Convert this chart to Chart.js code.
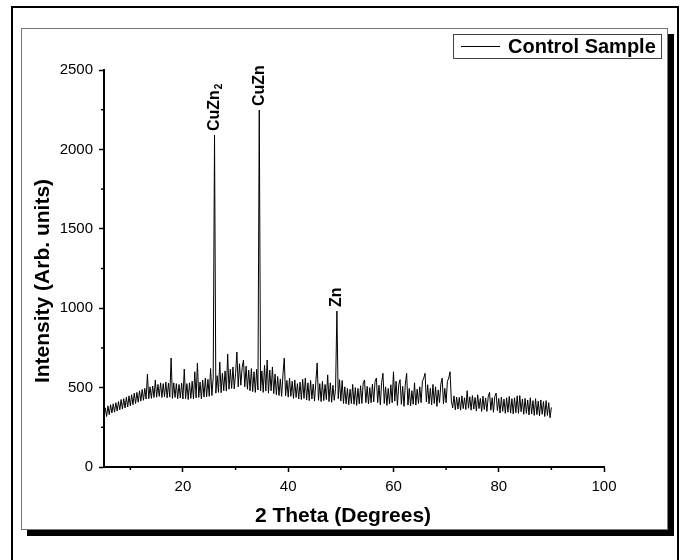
<!DOCTYPE html>
<html>
<head>
<meta charset="utf-8">
<title>XRD - Control Sample</title>
<script src="https://cdn.jsdelivr.net/npm/chart.js@4.4.1/dist/chart.umd.min.js"></script>
<style>
  html, body { margin: 0; padding: 0; background: #fff; }
  #page { position: relative; width: 685px; height: 560px; overflow: hidden; }
  #outer { position: absolute; left: 11px; top: 6px; width: 664px; height: 580px; border: 2px solid #000; }
  #frame { position: absolute; left: 21px; top: 28px; width: 645px; height: 500px; border: 1px solid #777; box-shadow: 6px 6px 0 #000; background: #fff; }
  #xrd { position: absolute; left: 0; top: 0; }
</style>
</head>
<body>
<div id="page">
  <div id="outer"></div>
  <div id="frame"></div>
  <canvas id="xrd" width="685" height="560"></canvas>
</div>
<script>
// scan: 2 theta from 5 to 90 deg, 0.25 deg per point
var scanStart = 5;
var scanStep = 0.25;

// intensities, one row = 5 degrees (20 points)
var intensity = [
  310, 372, 318, 385, 330, 392, 340, 398, 345, 405, 352, 412, 360, 425, 365, 430, 372, 440, 378, 448,   // 5
  385, 455, 392, 465, 400, 470, 408, 480, 415, 488, 420, 495, 428, 585, 430, 505, 432, 510, 438, 548,   // 10
  440, 520, 445, 530, 438, 525, 442, 535, 436, 528, 440, 686, 432, 530, 438, 525, 430, 520, 435, 528,   // 15
  428, 617, 430, 525, 425, 530, 432, 540, 428, 600, 435, 655, 438, 535, 430, 548, 440, 560, 442, 552,   // 20
  445, 620, 450, 565, 2090, 465, 575, 470, 661, 468, 590, 480, 605, 478, 711, 490, 615, 495, 630, 492,  // 25
  590, 724, 505, 650, 515, 625, 674, 505, 635, 490, 610, 480, 620, 475, 600, 470, 615, 485, 2248, 480,  // 30
  605, 470, 640, 478, 674, 465, 610, 480, 630, 462, 585, 455, 570, 450, 555, 445, 580, 686, 448, 545,   // 35
  440, 560, 445, 540, 432, 548, 438, 525, 428, 535, 425, 552, 432, 560, 422, 530, 418, 545, 428, 522,   // 40
  415, 535, 655, 420, 525, 412, 540, 418, 520, 425, 580, 412, 530, 408, 515, 420, 495, 982, 430, 550,   // 45
  415, 545, 400, 505, 398, 495, 392, 490, 400, 520, 395, 500, 388, 495, 398, 512, 400, 530, 548, 405,   // 50
  508, 398, 500, 405, 522, 410, 540, 560, 405, 515, 392, 532, 590, 400, 505, 388, 495, 398, 518, 405,   // 55
  600, 415, 540, 388, 518, 550, 395, 508, 382, 522, 590, 390, 495, 385, 480, 395, 530, 390, 490, 400,   // 60
  505, 405, 540, 560, 590, 410, 518, 398, 495, 392, 520, 400, 505, 382, 485, 405, 522, 560, 398, 495,   // 65
  405, 540, 560, 600, 415, 372, 448, 360, 440, 365, 438, 358, 448, 368, 436, 362, 480, 370, 442, 358,   // 70
  450, 365, 438, 352, 455, 368, 432, 350, 446, 362, 435, 350, 442, 470, 358, 436, 345, 445, 465, 355,   // 75
  432, 340, 440, 350, 428, 338, 436, 345, 445, 340, 430, 335, 436, 342, 448, 338, 450, 348, 428, 332,   // 80
  432, 338, 422, 328, 436, 334, 418, 325, 430, 330, 415, 322, 422, 332, 412, 318, 418, 325, 405, 310,   // 85
  375                                                                                                   // 90
];

var xTicks = [20, 40, 60, 80, 100];
var xMinorTicks = [10, 30, 50, 70, 90];
var yTicks = [0, 500, 1000, 1500, 2000, 2500];
var yMinorTicks = [250, 750, 1250, 1750, 2250];

var peakAngles = [26.0, 34.5, 49.25];
var peakNames = ['CuZn', 'CuZn', 'Zn'];
var peakSubscripts = ['2', '', ''];

var seriesName = 'Control Sample';
var xTitle = '2 Theta (Degrees)';
var yTitle = 'Intensity (Arb. units)';

var twoTheta = intensity.map(function (v, i) { return scanStart + i * scanStep; });
var points = intensity.map(function (v, i) { return { x: twoTheta[i], y: v }; });

var fontFamily = '"Liberation Sans", Arial, sans-serif';

// minor ticks, peak labels, axis titles and legend box
var extras = {
    id: 'extras',
    afterDraw: function (chart) {
        var ctx = chart.ctx;
        var xs = chart.scales.x;
        var ys = chart.scales.y;
        ctx.save();

        ctx.strokeStyle = '#000';
        ctx.lineWidth = 1.5;
        xMinorTicks.forEach(function (v) {
            var px = xs.getPixelForValue(v);
            ctx.beginPath();
            ctx.moveTo(px, ys.bottom);
            ctx.lineTo(px, ys.bottom + 3);
            ctx.stroke();
        });
        yMinorTicks.forEach(function (v) {
            var py = ys.getPixelForValue(v);
            ctx.beginPath();
            ctx.moveTo(xs.left, py);
            ctx.lineTo(xs.left - 3, py);
            ctx.stroke();
        });

        ctx.fillStyle = '#000';
        for (var i = 0; i < peakAngles.length; i++) {
            var idx = Math.round((peakAngles[i] - scanStart) / scanStep);
            var px = xs.getPixelForValue(peakAngles[i]);
            var py = ys.getPixelForValue(intensity[idx]) - 4;
            ctx.save();
            ctx.translate(px, py);
            ctx.rotate(-Math.PI / 2);
            ctx.font = 'bold 16px ' + fontFamily;
            ctx.textAlign = 'left';
            ctx.textBaseline = 'middle';
            ctx.fillText(peakNames[i], 0, 0);
            if (peakSubscripts[i]) {
                var w = ctx.measureText(peakNames[i]).width;
                ctx.font = 'bold 10px ' + fontFamily;
                ctx.fillText(peakSubscripts[i], w + 1, 5);
            }
            ctx.restore();
        }

        // axis titles, centred on the layer frame
        ctx.font = 'bold 21px ' + fontFamily;
        ctx.textAlign = 'center';
        ctx.textBaseline = 'middle';
        ctx.fillText(xTitle, 343, 516);
        ctx.save();
        ctx.translate(43, 281);
        ctx.rotate(-Math.PI / 2);
        ctx.fillText(yTitle, 0, 0);
        ctx.restore();

        // legend
        ctx.font = 'bold 20px ' + fontFamily;
        ctx.fillStyle = '#fff';
        ctx.fillRect(453, 34, 208, 24);
        ctx.strokeStyle = '#444';
        ctx.lineWidth = 1;
        ctx.strokeRect(453.5, 34.5, 208, 24);
        ctx.strokeStyle = '#000';
        ctx.beginPath();
        ctx.moveTo(461, 46.5);
        ctx.lineTo(500, 46.5);
        ctx.stroke();
        ctx.fillStyle = '#000';
        ctx.textAlign = 'left';
        ctx.fillText(chart.data.datasets[0].label, 508, 47);

        ctx.restore();
    }
};

var xrdChart = new Chart(document.getElementById('xrd').getContext('2d'), {
    type: 'line',
    data: {
        datasets: [{
            label: seriesName,
            data: points,
            borderColor: '#000',
            borderWidth: 1,
            pointRadius: 0,
            tension: 0,
            fill: false
        }]
    },
    options: {
        responsive: false,
        animation: false,
        layout: { padding: { left: 20, right: 81, top: 70, bottom: 0 } },
        plugins: {
            legend: { display: false },
            tooltip: { enabled: false }
        },
        scales: {
            x: {
                type: 'linear',
                min: 5,
                max: 100,
                afterFit: function (s) { s.height = 93; },
                afterBuildTicks: function (s) { s.ticks = xTicks.map(function (v) { return { value: v }; }); },
                grid: { display: true, drawOnChartArea: false, tickLength: 5, tickWidth: 1.5, tickColor: '#000' },
                border: { display: true, color: '#000', width: 2 },
                ticks: {
                    color: '#000', padding: 6, maxRotation: 0,
                    font: { family: fontFamily, size: 15 },
                    callback: function (v) { return String(v); }
                }
            },
            y: {
                min: 0,
                max: 2500,
                afterFit: function (s) { s.width = 84; },
                afterBuildTicks: function (s) { s.ticks = yTicks.map(function (v) { return { value: v }; }); },
                grid: { display: true, drawOnChartArea: false, tickLength: 5, tickWidth: 1.5, tickColor: '#000' },
                border: { display: true, color: '#000', width: 2 },
                ticks: {
                    color: '#000', padding: 6,
                    font: { family: fontFamily, size: 15 },
                    callback: function (v) { return String(v); }
                }
            }
        }
    },
    plugins: [extras]
});
</script>
</body>
</html>
